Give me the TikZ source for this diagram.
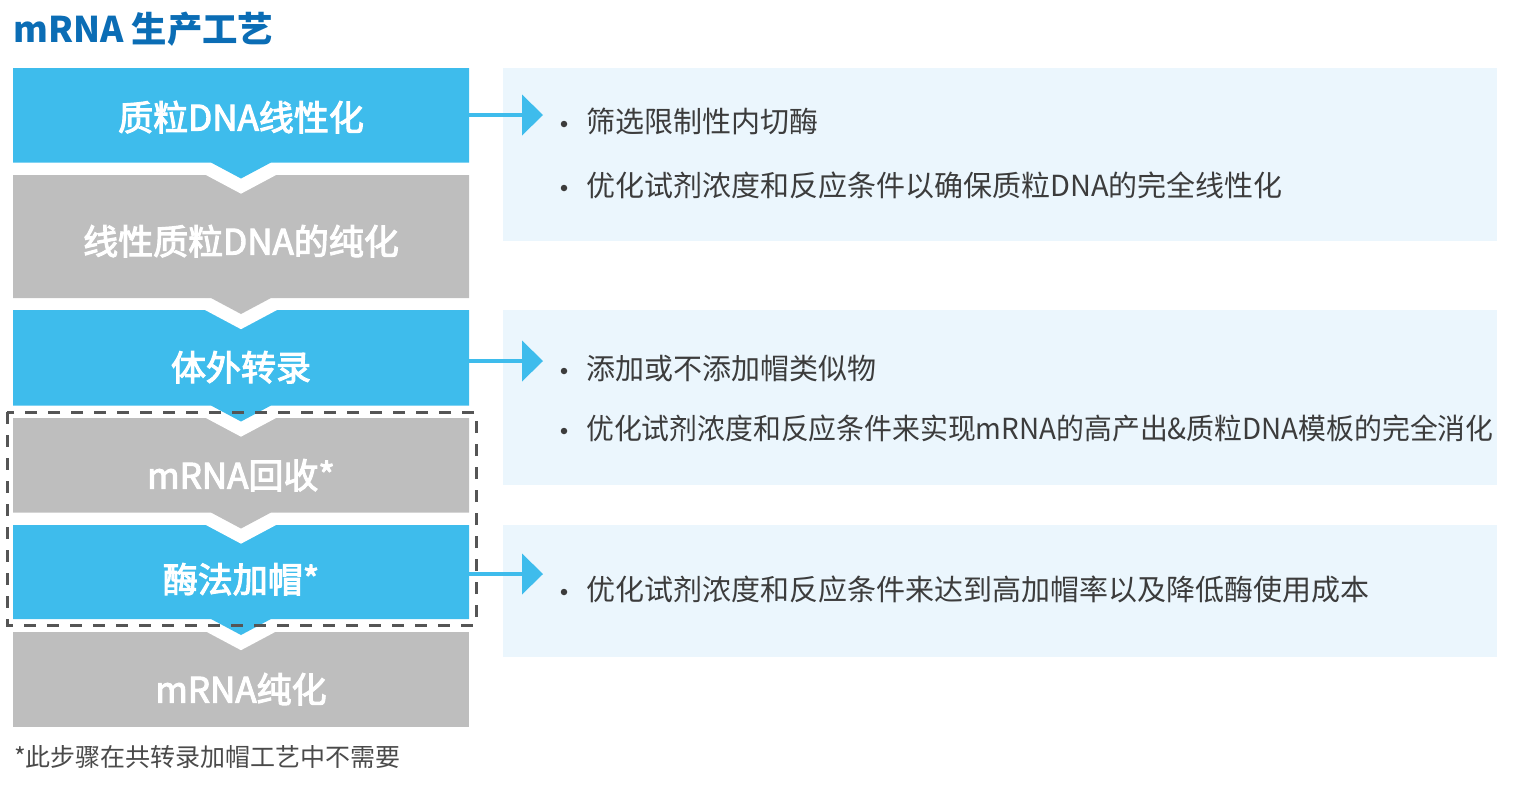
\documentclass[tikz,border=0pt]{standalone}
\usepackage{fontspec}
\setmainfont{Noto Sans CJK SC}
\newfontfamily\labelfont[FakeBold=3]{Noto Sans CJK SC}
\usetikzlibrary{calc}
\definecolor{stepblue}{HTML}{3EBCEC}
\definecolor{stepgray}{HTML}{BEBEBE}
\definecolor{panelbg}{HTML}{EBF6FD}
\definecolor{titleblue}{HTML}{0B6DB5}
\definecolor{textgray}{HTML}{3C3C3C}
\definecolor{footgray}{HTML}{4A4A4A}
\definecolor{dashgray}{HTML}{555555}
\newcommand\flowbox[3]{\fill[#1] (13,#2) -- (469,#2) -- (469,#3) -- (271,#3) -- (241,#3+16) -- (211,#3) -- (13,#3) -- cycle;}
\newcommand\flowlast[3]{\fill[#1] (13,#2) rectangle (469,#3);}
\newcommand\flowhalo[1]{\fill[white] (205,#1) -- (205,#1+12) -- (241,#1+31.2) -- (277,#1+12) -- (277,#1) -- cycle;}
\begin{document}
\begin{tikzpicture}[x=1pt,y=-1pt,
  panel/.style={fill=panelbg, inner sep=0pt, anchor=north west},
  steplabel/.style={text=white, inner sep=0pt, anchor=base,
    font=\labelfont\fontsize{35}{40}\selectfont},
  bullettext/.style={text=textgray, inner sep=0pt, anchor=base west,
    font=\fontsize{29}{34}\selectfont},
  bulletdot/.style={circle, fill=textgray, inner sep=0pt, minimum size=6.5pt},
  arrowline/.style={draw=stepblue, line width=4pt},
  arrowhead/.style={fill=stepblue},
  dashframe/.style={draw=dashgray, line width=3pt, dash pattern=on 12pt off 11pt}]
\useasboundingbox (0,0) rectangle (1520,785);

% title (baseline = visual centre + 0.38 em)
\node[anchor=base west, inner sep=0pt, text=titleblue,
  font=\bfseries\fontsize{35.4}{40}\selectfont] (title) at (13,42.5) {mRNA 生产工艺};

% panels
\node[panel, minimum width=994pt, minimum height=173pt] (p1) at (503,68) {};
\node[panel, minimum width=994pt, minimum height=175pt] (p2) at (503,310) {};
\node[panel, minimum width=994pt, minimum height=132pt] (p3) at (503,525) {};

% step boxes (drawn bottom to top)
\flowlast{stepgray}{632}{727}
\flowhalo{619}
\flowbox{stepblue}{525}{619}
\flowhalo{512.5}
\flowbox{stepgray}{418}{512.5}
\flowhalo{405.5}
\flowbox{stepblue}{310}{405.5}
\flowhalo{298}
\flowbox{stepgray}{175}{298}
\flowhalo{162.5}
\flowbox{stepblue}{68}{162.5}

% arrows
\coordinate (a1s) at (469,115); \coordinate (a1b) at (522,115); \coordinate (a1t) at (543,115);
\coordinate (a2s) at (469,361); \coordinate (a2b) at (522,361); \coordinate (a2t) at (543,361);
\coordinate (a3s) at (469,574); \coordinate (a3b) at (522,574); \coordinate (a3t) at (543,574);
\foreach \a in {a1,a2,a3}{
  \draw[arrowline] (\a s) -- (\a b);
  \fill[arrowhead] ($(\a b)+(0,-20.5)$) -- (\a t) -- ($(\a b)+(0,20.5)$) -- cycle;
}

% dashed frame
\draw[dashframe] (7,412) rectangle (476,625);

% step labels (baseline = centre + 13.3)
\node[steplabel] (s1) at (241,130.5) {质粒DNA线性化};
\node[steplabel] (s2) at (241,254.5) {线性质粒DNA的纯化};
\node[steplabel] (s3) at (241,380.5) {体外转录};
\node[steplabel] (s4) at (241,488.5) {mRNA回收*};
\node[steplabel] (s5) at (241,592.5) {酶法加帽*};
\node[steplabel] (s6) at (241,702.5) {mRNA纯化};

% bullets (baseline = centre + 11)
\node[bulletdot] (d11) at (564,124) {};
\node[bullettext] (t11) at (586,132) {筛选限制性内切酶};
\node[bulletdot] (d12) at (564,188) {};
\node[bullettext] (t12) at (586,196) {优化试剂浓度和反应条件以确保质粒DNA的完全线性化};
\node[bulletdot] (d21) at (564,371) {};
\node[bullettext] (t21) at (586,379) {添加或不添加帽类似物};
\node[bulletdot] (d22) at (564,431) {};
\node[bullettext] (t22) at (586,439) {\scalebox{0.96}[1]{优化试剂浓度和反应条件来实现mRNA的高产出\&质粒DNA模板的完全消化}};
\node[bulletdot] (d31) at (564,592) {};
\node[bullettext] (t31) at (586,600) {优化试剂浓度和反应条件来达到高加帽率以及降低酶使用成本};

% footnote
\node[anchor=base west, inner sep=0pt, text=footgray,
  font=\fontsize{25}{30}\selectfont] (foot) at (14,766.5) {*此步骤在共转录加帽工艺中不需要};
\end{tikzpicture}
\end{document}
